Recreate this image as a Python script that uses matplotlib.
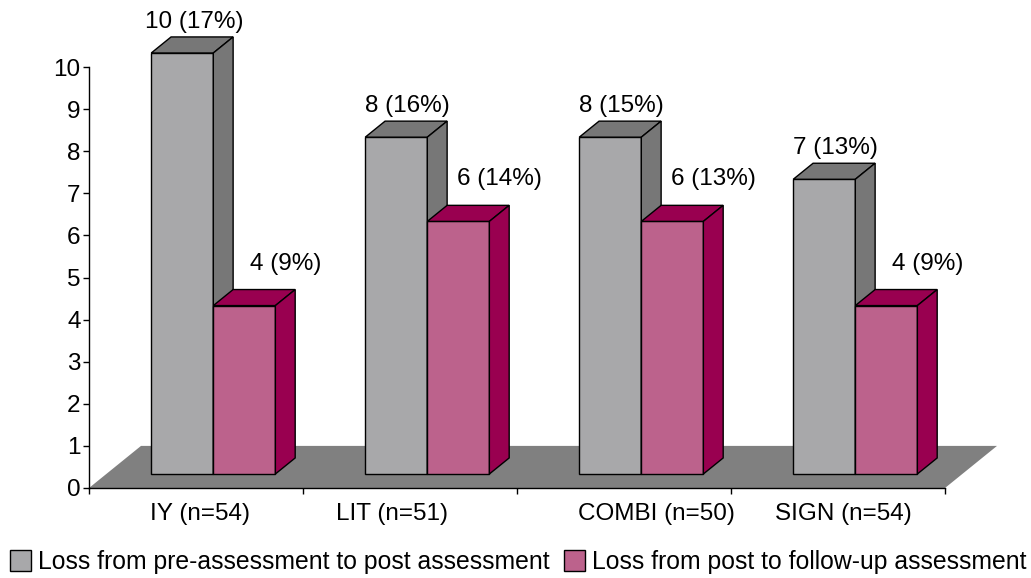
import matplotlib
matplotlib.use("Agg")
import matplotlib.pyplot as plt
from matplotlib.patches import Polygon, Patch
import matplotlib.transforms as mtransforms

# ---- data -------------------------------------------------------------
categories = ["IY (n=54)", "LIT (n=51)", "COMBI (n=50)", "SIGN (n=54)"]
pre_post_loss = [10, 8, 8, 7]
pre_post_pct = [17, 16, 15, 13]
post_followup_loss = [4, 6, 6, 4]
post_followup_pct = [9, 14, 13, 9]
series_names = ["Loss from pre-assessment to post assessment",
                "Loss from post to follow-up assessment"]
y_ticks = list(range(0, 11))

# ---- style ------------------------------------------------------------
FONT = "Liberation Sans"
FS = 17.5
LEG_FS = 17.8
GRAY = dict(front="#a8a8aa", top="#777777", side="#777777")
PINK = dict(front="#bc628c", top="#990050", side="#990050")
FLOOR = "#808080"

plt.rcParams["font.family"] = [FONT, "DejaVu Sans"]

W, H = 1031, 578
fig = plt.figure(figsize=(W / 100, H / 100), dpi=100)
ax = fig.add_axes([89 / W, 90 / H, 856 / W, 421 / H])
n = len(categories)
ax.set_xlim(0, n)
ax.set_ylim(0, 10)

# oblique projection: depth z in [0, 1] shifts right and up
KX = 0.243   # category units per unit of depth
KY = 1.0     # value units per unit of depth
Z0, Z1 = 0.333, 0.714   # front/back of the columns


def proj(x, y, z):
    return (x + z * KX, y + z * KY)


def face(pts, color, z=3, edge="black", lw=1.0):
    poly = Polygon([proj(*p) for p in pts], closed=True, facecolor=color,
                   edgecolor=edge, linewidth=lw, clip_on=False, zorder=z,
                   joinstyle="miter")
    ax.add_patch(poly)


# floor
face([(0, 0, 0), (n, 0, 0), (n, 0, 1), (0, 0, 1)], FLOOR, z=1, edge="none")


def column(x0, x1, v, colors):
    face([(x0, 0, Z0), (x1, 0, Z0), (x1, v, Z0), (x0, v, Z0)], colors["front"])
    face([(x0, v, Z0), (x1, v, Z0), (x1, v, Z1), (x0, v, Z1)], colors["top"])
    face([(x1, 0, Z0), (x1, 0, Z1), (x1, v, Z1), (x1, v, Z0)], colors["side"])


HALF = 0.29
for i in range(n):
    c = i + 0.5
    column(c - HALF, c, pre_post_loss[i], GRAY)
    column(c, c + HALF, post_followup_loss[i], PINK)
    ax.text(i + 0.49, pre_post_loss[i] + 1.07,
            f"{pre_post_loss[i]} ({pre_post_pct[i]}%)",
            ha="center", va="center", fontsize=FS, zorder=5)
    ax.text(i + 0.92, post_followup_loss[i] + 1.33,
            f"{post_followup_loss[i]} ({post_followup_pct[i]}%)",
            ha="center", va="center", fontsize=FS, zorder=5)

# axes
for s in ("top", "right"):
    ax.spines[s].set_visible(False)
for s in ("left", "bottom"):
    ax.spines[s].set_linewidth(1.0)
    ax.spines[s].set_zorder(4)
ax.set_yticks(y_ticks)
ax.set_xticks(range(n + 1))
ax.set_xticklabels([])
ax.tick_params(axis="both", direction="out", length=4.5, width=1.0,
               labelsize=FS, pad=1.5)
ax.patch.set_visible(False)

# category labels (slightly uneven placement under each group)
label_shift_px = [4, -18, 32, 5]
for i, (lab, dx) in enumerate(zip(categories, label_shift_px)):
    off = mtransforms.offset_copy(ax.transData, fig=fig, x=dx, y=-26, units="dots")
    ax.text(i + 0.5, 0, lab, transform=off, ha="center", va="center",
            fontsize=FS, clip_on=False)

# legend
handles = [Patch(facecolor=GRAY["front"], edgecolor="black", linewidth=1.0),
           Patch(facecolor=PINK["front"], edgecolor="black", linewidth=1.0)]
fig.legend(handles, series_names, loc="lower left",
           bbox_to_anchor=(10 / W, 4 / H), ncol=2, frameon=False,
           fontsize=LEG_FS, handlelength=0.85, handleheight=0.95,
           handletextpad=0.3, columnspacing=0.55, borderpad=0,
           borderaxespad=0)

fig.savefig("out.png", dpi=100)
